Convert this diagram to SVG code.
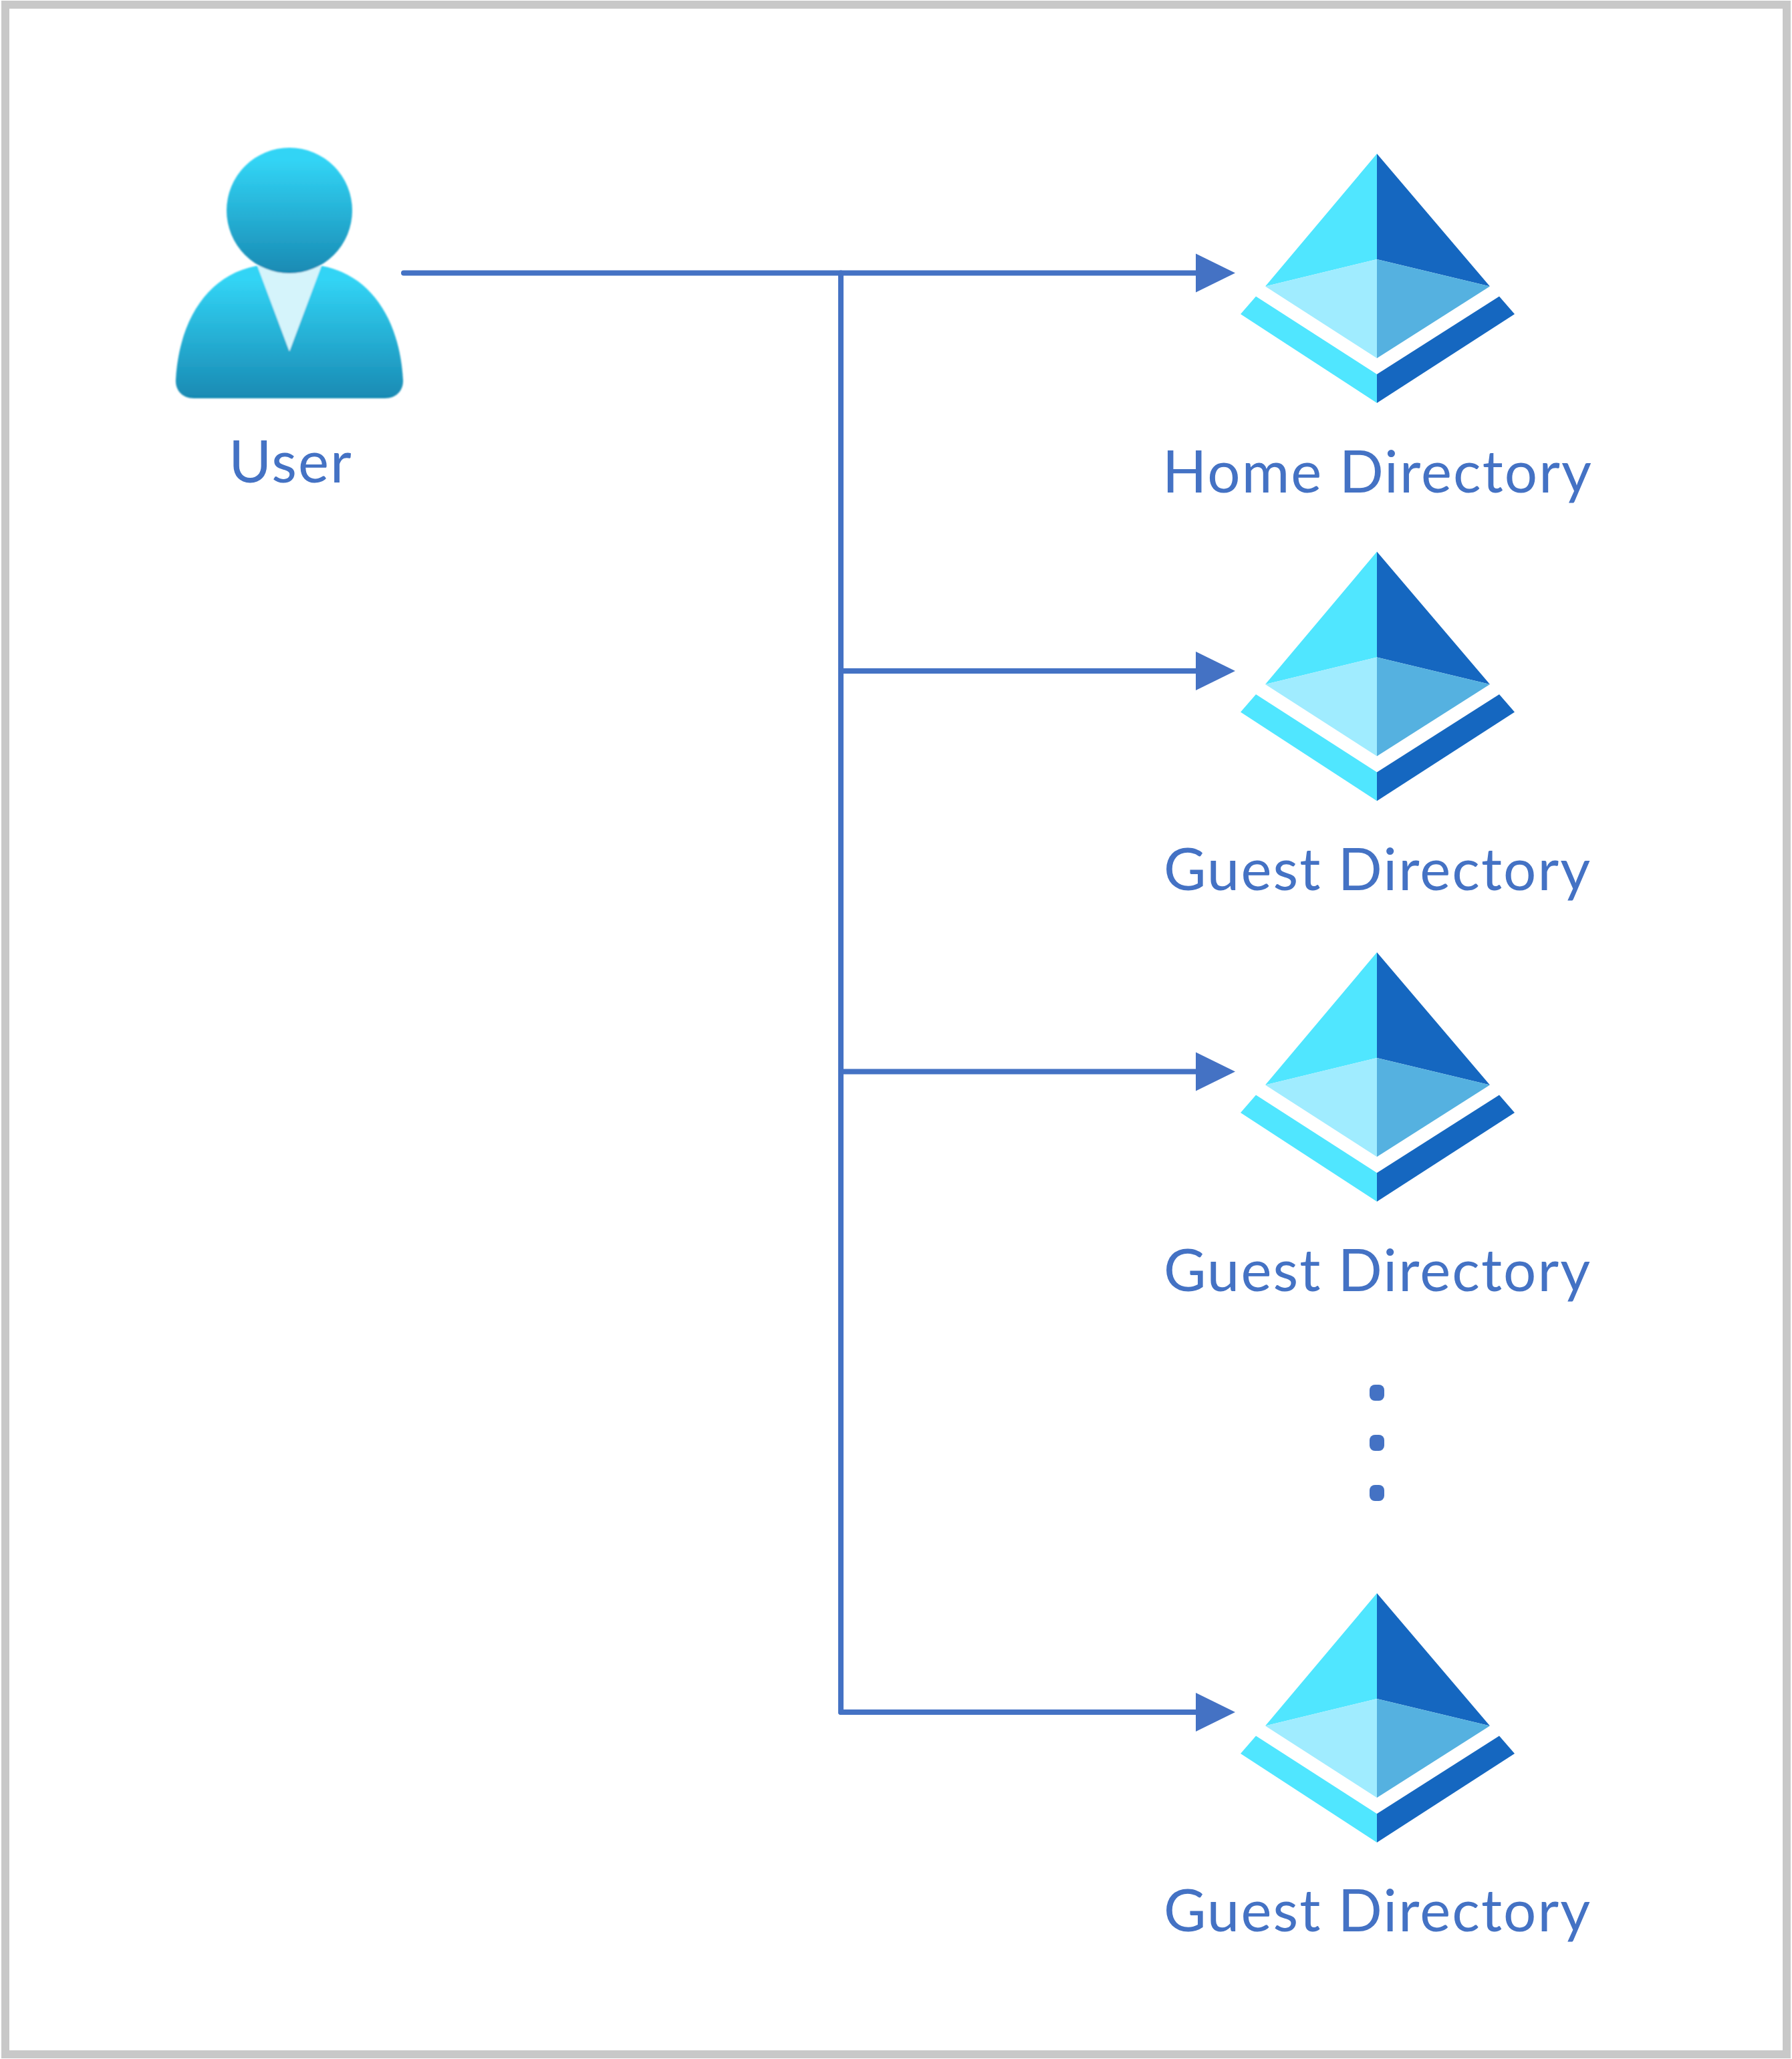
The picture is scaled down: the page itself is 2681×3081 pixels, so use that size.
<svg xmlns="http://www.w3.org/2000/svg" width="2681" height="3081" viewBox="0 0 2681 3081">
<style>
text{font-family:"Lato","Open Sans","Liberation Sans",sans-serif;font-size:87px;letter-spacing:2.1px;fill:#4472c4;text-anchor:middle}
.c{fill:none;stroke:#4472c4;stroke-width:8;stroke-linecap:round;stroke-linejoin:round}
.dot{fill:#4472c4}
</style>
<defs>
<linearGradient id="hg" x1="0" y1="0" x2="0" y2="1"><stop offset="0.1" stop-color="#32d4f5"/><stop offset="1" stop-color="#198ab3"/></linearGradient>
<filter id="soft" x="-5%" y="-5%" width="110%" height="110%"><feGaussianBlur stdDeviation="1.2"/></filter>
<marker id="ah" markerUnits="userSpaceOnUse" markerWidth="60" markerHeight="60" refX="0" refY="30" orient="auto"><path d="M0,1 L59,30 L0,59 Z" fill="#4472c4"/></marker>
<g id="pyr">
<path d="M2060,230 L1893,428.5 L2060,388 Z" fill="#50e6ff"/>
<path d="M2060,230 L2229,428.5 L2060,388 Z" fill="#1567c0"/>
<path d="M1893,428.5 L2060,388 L2060,536 Z" fill="#a0ecff"/>
<path d="M2229,428.5 L2060,388 L2060,536 Z" fill="#55b1e0"/>
<path d="M1879,443.5 L2060,560 L2060,603 L1856,470 Z" fill="#50e6ff"/>
<path d="M2243,443.5 L2060,560 L2060,603 L2266,470 Z" fill="#1567c0"/>
</g>
</defs>
<rect width="2681" height="3081" fill="#fff"/>
<rect id="frame" x="8" y="7" width="2665" height="3067" fill="none" stroke="#c8c8c8" stroke-width="12"/>
<g id="user">
<g filter="url(#soft)">
<path d="M383,398 C310,412 268,480 263,568 C262,583 272,596 290,596 L576,596 C594,596 604,583 603,568 C598,480 556,412 482,398 Z" fill="url(#hg)"/>
<path d="M385,398 L481,398 L433,526 Z" fill="#d5f4fb"/>
<circle cx="433" cy="315" r="94" fill="url(#hg)"/>
</g>
<text x="435" y="722">User</text>
</g>
<g id="connectors">
<path class="c" d="M604,408.5 H1258 V2562"/>
<path class="c" d="M1258,408.5 H1789" marker-end="url(#ah)"/>
<path class="c" d="M1258,1004 H1789" marker-end="url(#ah)"/>
<path class="c" d="M1258,1603.5 H1789" marker-end="url(#ah)"/>
<path class="c" d="M1258,2562 H1789" marker-end="url(#ah)"/>
</g>
<g id="home-directory"><use href="#pyr"/><text x="2061" y="737">Home Directory</text></g>
<g id="guest-directory-1"><use href="#pyr" y="595.5"/><text x="2061" y="1332">Guest Directory</text></g>
<g id="guest-directory-2"><use href="#pyr" y="1195"/><text x="2061" y="1932">Guest Directory</text></g>
<g id="ellipsis">
<rect class="dot" x="2049" y="2072" width="22" height="24" rx="8"/>
<rect class="dot" x="2049" y="2147" width="22" height="24" rx="8"/>
<rect class="dot" x="2049" y="2222" width="22" height="24" rx="8"/>
</g>
<g id="guest-directory-3"><use href="#pyr" y="2154"/><text x="2061" y="2890">Guest Directory</text></g>
</svg>
